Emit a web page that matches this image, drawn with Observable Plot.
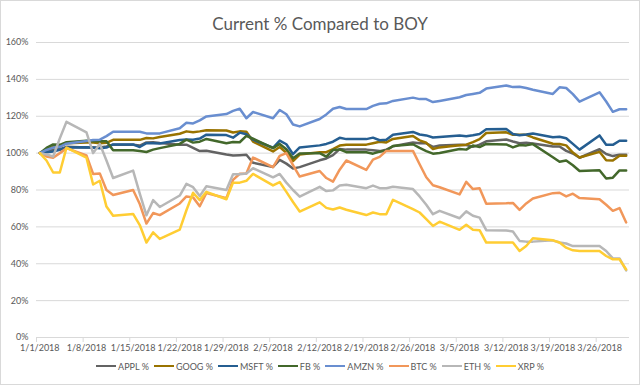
<!DOCTYPE html>
<html><head><meta charset="utf-8">
<script src="https://cdn.jsdelivr.net/npm/d3@7"></script>
<script src="https://cdn.jsdelivr.net/npm/@observablehq/plot@0.6"></script>
<style>
body{margin:0;background:#fff;}
#wrap{position:relative;width:640px;height:385px;font-family:Lato,"Open Sans",sans-serif;overflow:hidden;}
#frame{position:absolute;left:0;top:0;width:638px;height:383px;border:1px solid #d9d9d9;pointer-events:none;}
#title{position:absolute;left:0;top:14px;width:640px;text-align:center;font-size:17px;line-height:20px;color:#595959;}
#chart{position:absolute;left:0;top:0;}
#legend{position:absolute;left:0;top:358px;width:640px;height:16px;display:flex;justify-content:center;align-items:center;gap:5px;font-size:9px;color:#595959;}
#legend .it{display:flex;align-items:center;}
#legend .sw{width:20px;height:2.5px;margin-right:2px;}
</style></head>
<body>
<div id="wrap">
  <div id="chart"></div>
  <div id="title">Current % Compared to BOY</div>
  <div id="legend"></div>
  <div id="frame"></div>
</div>
<script>
const dates = [
"2018-01-01","2018-01-02","2018-01-03","2018-01-04","2018-01-05",
"2018-01-08","2018-01-09","2018-01-10","2018-01-11","2018-01-12",
"2018-01-15","2018-01-16","2018-01-17","2018-01-18","2018-01-19",
"2018-01-22","2018-01-23","2018-01-24","2018-01-25","2018-01-26",
"2018-01-29","2018-01-30","2018-01-31","2018-02-01","2018-02-02",
"2018-02-05","2018-02-06","2018-02-07","2018-02-08","2018-02-09",
"2018-02-12","2018-02-13","2018-02-14","2018-02-15","2018-02-16",
"2018-02-19","2018-02-20","2018-02-21","2018-02-22","2018-02-23",
"2018-02-26","2018-02-27","2018-02-28","2018-03-01","2018-03-02",
"2018-03-05","2018-03-06","2018-03-07","2018-03-08","2018-03-09",
"2018-03-12","2018-03-13","2018-03-14","2018-03-15","2018-03-16",
"2018-03-19","2018-03-20","2018-03-21","2018-03-22","2018-03-23",
"2018-03-26","2018-03-27","2018-03-28","2018-03-29","2018-03-30"];

const seriesNames = ["APPL %","GOOG %","MSFT %","FB %","AMZN %","BTC %","ETH %","XRP %"];
const seriesColors = ["#636363","#997300","#255E91","#43682B","#698ED0","#F1975A","#B7B7B7","#FFCD33"];

const appl = [100,101.8,101.8,102.2,103.4, 103.0,103.0,103.0,103.6,104.6, 104.6,104.1,105.8,105.9,105.5,
  104.6,104.6,102.9,101.1,101.3, 99.2,98.7,98.9,99.1,94.8, 92.5,96.3,94.3,91.7,92.4,
  96.1,97.1,98.9,102.2,101.9, 101.9,101.5,101.1,101.9,103.7, 105.8,105.4,105.3,103.4,104.1,
  104.5,104.4,103.4,104.6,106.4, 107.4,106.3,105.4,105.6,105.2, 103.6,103.6,101.2,99.8,97.5,
  102.1,99.5,98.4,99.1,99.1];
const goog = [100,101.8,103.4,103.8,105.3, 105.8,105.7,105.4,105.6,107.2, 107.2,107.2,108.2,108.0,108.7,
  110.5,111.8,111.3,111.8,112.4, 112.3,111.2,111.8,111.6,106.3, 100.9,103.3,100.2,95.7,99.2,
  100.5,100.5,102.2,104.1,104.6, 104.6,105.4,106.2,105.8,107.7, 109.3,106.9,105.6,102.2,103.1,
  104.3,104.6,106.0,107.6,110.9, 111.3,109.9,109.9,109.9,108.5, 105.1,104.9,104.2,100.3,97.6,
  100.7,96.1,96.0,98.6,98.6];
const msft = [100,100.5,100.9,101.8,103.1, 103.2,103.1,102.7,103.0,104.7, 104.7,103.3,105.4,105.3,105.2,
  107.1,107.4,107.3,107.9,110.0, 109.8,108.4,111.1,110.2,107.3, 102.9,106.8,104.8,99.4,103.1,
  104.2,105.0,106.2,108.3,107.6, 107.6,108.4,107.0,107.2,110.0, 111.5,110.1,109.6,108.5,108.8,
  109.5,109.1,109.7,110.4,112.9, 113.1,110.4,109.7,110.1,110.6, 108.6,108.9,108.1,105.0,101.9,
  109.6,104.6,104.5,106.7,106.7];
const fb = [100,102.8,104.7,104.5,105.9, 106.7,106.5,106.5,106.4,101.6, 101.6,101.1,100.6,101.9,102.7,
  105.0,107.3,105.7,106.2,107.7, 105.4,106.0,105.9,109.4,107.8, 102.7,105.0,102.1,97.2,99.8,
  100.0,98.1,101.7,102.0,100.5, 100.5,99.7,100.8,101.4,103.9, 104.8,102.8,101.1,99.7,100.1,
  102.2,101.9,104.1,103.3,105.0, 104.7,103.1,104.4,104.2,104.9, 97.8,95.3,96.0,93.4,90.3,
  90.7,86.2,86.7,90.6,90.6];
const amzn = [100,101.7,103.0,103.4,105.1, 106.6,107.1,107.3,109.2,111.6, 111.6,111.6,110.7,110.6,110.7,
  113.5,116.5,116.1,117.8,119.9, 121.2,122.9,124.1,118.9,122.3, 118.9,123.4,121.1,115.5,114.5,
  118.5,121.0,124.1,125.0,123.9, 123.9,125.6,126.8,127.0,128.3, 130.1,129.3,129.3,127.7,128.3,
  130.3,131.5,132.1,132.7,135.0, 136.7,135.8,136.0,135.3,134.4, 132.1,135.7,135.3,132.0,127.9,
  133.0,128.0,122.4,123.8,123.8];
const btc = [100,98.2,97.5,100,102.7, 98.7,88.7,89,80,77.3, 80,72.4,61.8,67.5,66.4,
  72.7,76.5,76,71.2,78.4, 75.5,85.5,88.8,89,97.6, 92.4,98.5,100,93.5,87.3,
  90.3,86.5,84.5,91,96, 90.9,96.5,98,101.2,101.2, 101.2,94,86.9,82.6,81.5,
  77.6,84.4,80.5,81,72.5, 72.8,73,69.2,72.7,75.4, 78.3,78.5,76.5,78,75.6,
  75,72,68.7,70.2,62.4];
const eth = [100,99.3,98.2,108,117, 111.3,100,105,96,86.5, 90.5,78,66.3,74.5,70.8,
  77,83.3,81.5,76.7,82, 80,88.5,88.5,89,91.8, 86.9,88.7,84,80,76.4,
  81.7,79.4,79.8,82.4,82.9, 81,82.4,81,81,81.8, 80.5,76.5,72,66.9,68.7,
  64.7,68.4,66,65,58.2, 58,57.5,52.4,52,52, 52.7,51.5,51,49.6,49.6,
  49.6,46.9,42.9,42.9,36.4];
const xrp = [100,96,89.5,89.5,103, 97.5,83,85,71,66, 67,61,51.5,57,53.5,
  58.5,69,78.5,74.5,79, 75,84,84,85,88.7, 82.5,84.3,79,73.5,68.3,
  73.3,70.3,69.4,70.5,69.3, 66.4,67.8,66.9,66.9,74.7, 69.6,67.8,64.2,60.5,62.8,
  58.4,61.1,58.4,58.2,51.5, 51.5,51.5,46.9,49.6,53.8, 52.7,51.5,48.7,47.3,46.9,
  46.9,44.2,42.4,42.4,36.9];

const xTickLabels = ["1/1/2018","1/8/2018","1/15/2018","1/22/2018","1/29/2018","2/5/2018","2/12/2018",
  "2/19/2018","2/26/2018","3/5/2018","3/12/2018","3/19/2018","3/26/2018"];
const yTicks = [0,20,40,60,80,100,120,140,160];

const seriesValues = [appl,goog,msft,fb,amzn,btc,eth,xrp];
const parseISO = d3.utcParse("%Y-%m-%d");
const parseMDY = d3.utcParse("%m/%d/%Y");
const rows = [];
seriesNames.forEach((name,i)=>{
  seriesValues[i].forEach((v,j)=>rows.push({date: parseISO(dates[j]), value: v, series: name}));
});
const HALF = 12*3600*1000;
const labelDates = xTickLabels.map(s=>parseMDY(s));
const markDates = labelDates.map(d=>new Date(+d - HALF));
const fmt = d3.utcFormat("%-m/%-d/%Y");
const first = parseISO(dates[0]), last = parseISO(dates[dates.length-1]);

const chart = Plot.plot({
  width: 640, height: 385,
  marginLeft: 36, marginRight: 11, marginTop: 42, marginBottom: 48,
  style: {fontFamily: "Lato, 'Open Sans', sans-serif", fontSize: "9px", background: "transparent"},
  x: {type: "utc", domain: [new Date(+first - HALF), new Date(+last + HALF)], label: null},
  y: {domain: [0,160], label: null},
  color: {domain: seriesNames, range: seriesColors},
  marks: [
    Plot.gridY(yTicks, {stroke: "#d9d9d9", strokeOpacity: 1, strokeWidth: 1}),
    Plot.axisY(yTicks, {tickSize: 0, tickPadding: 8, tickFormat: d => d + "%", fill: "#595959", fontSize: 9, label: null}),
    Plot.axisX(markDates, {tickSize: 5, stroke: "#d9d9d9", strokeOpacity: 1, tickFormat: () => "", label: null}),
    Plot.axisX(labelDates, {tickSize: 0, tickPadding: 7, tickFormat: fmt, fill: "#595959", fontSize: 9, label: null}),
    Plot.lineY(rows, {x: "date", y: "value", z: "series", stroke: "series", strokeWidth: 2.5, strokeLinejoin: "round"})
  ]
});
document.getElementById("chart").appendChild(chart);

const legend = document.getElementById("legend");
seriesNames.forEach((name,i)=>{
  const it = document.createElement("div"); it.className = "it";
  const sw = document.createElement("div"); sw.className = "sw"; sw.style.background = seriesColors[i];
  const tx = document.createElement("span"); tx.textContent = name;
  it.appendChild(sw); it.appendChild(tx); legend.appendChild(it);
});
</script>
</body></html>
